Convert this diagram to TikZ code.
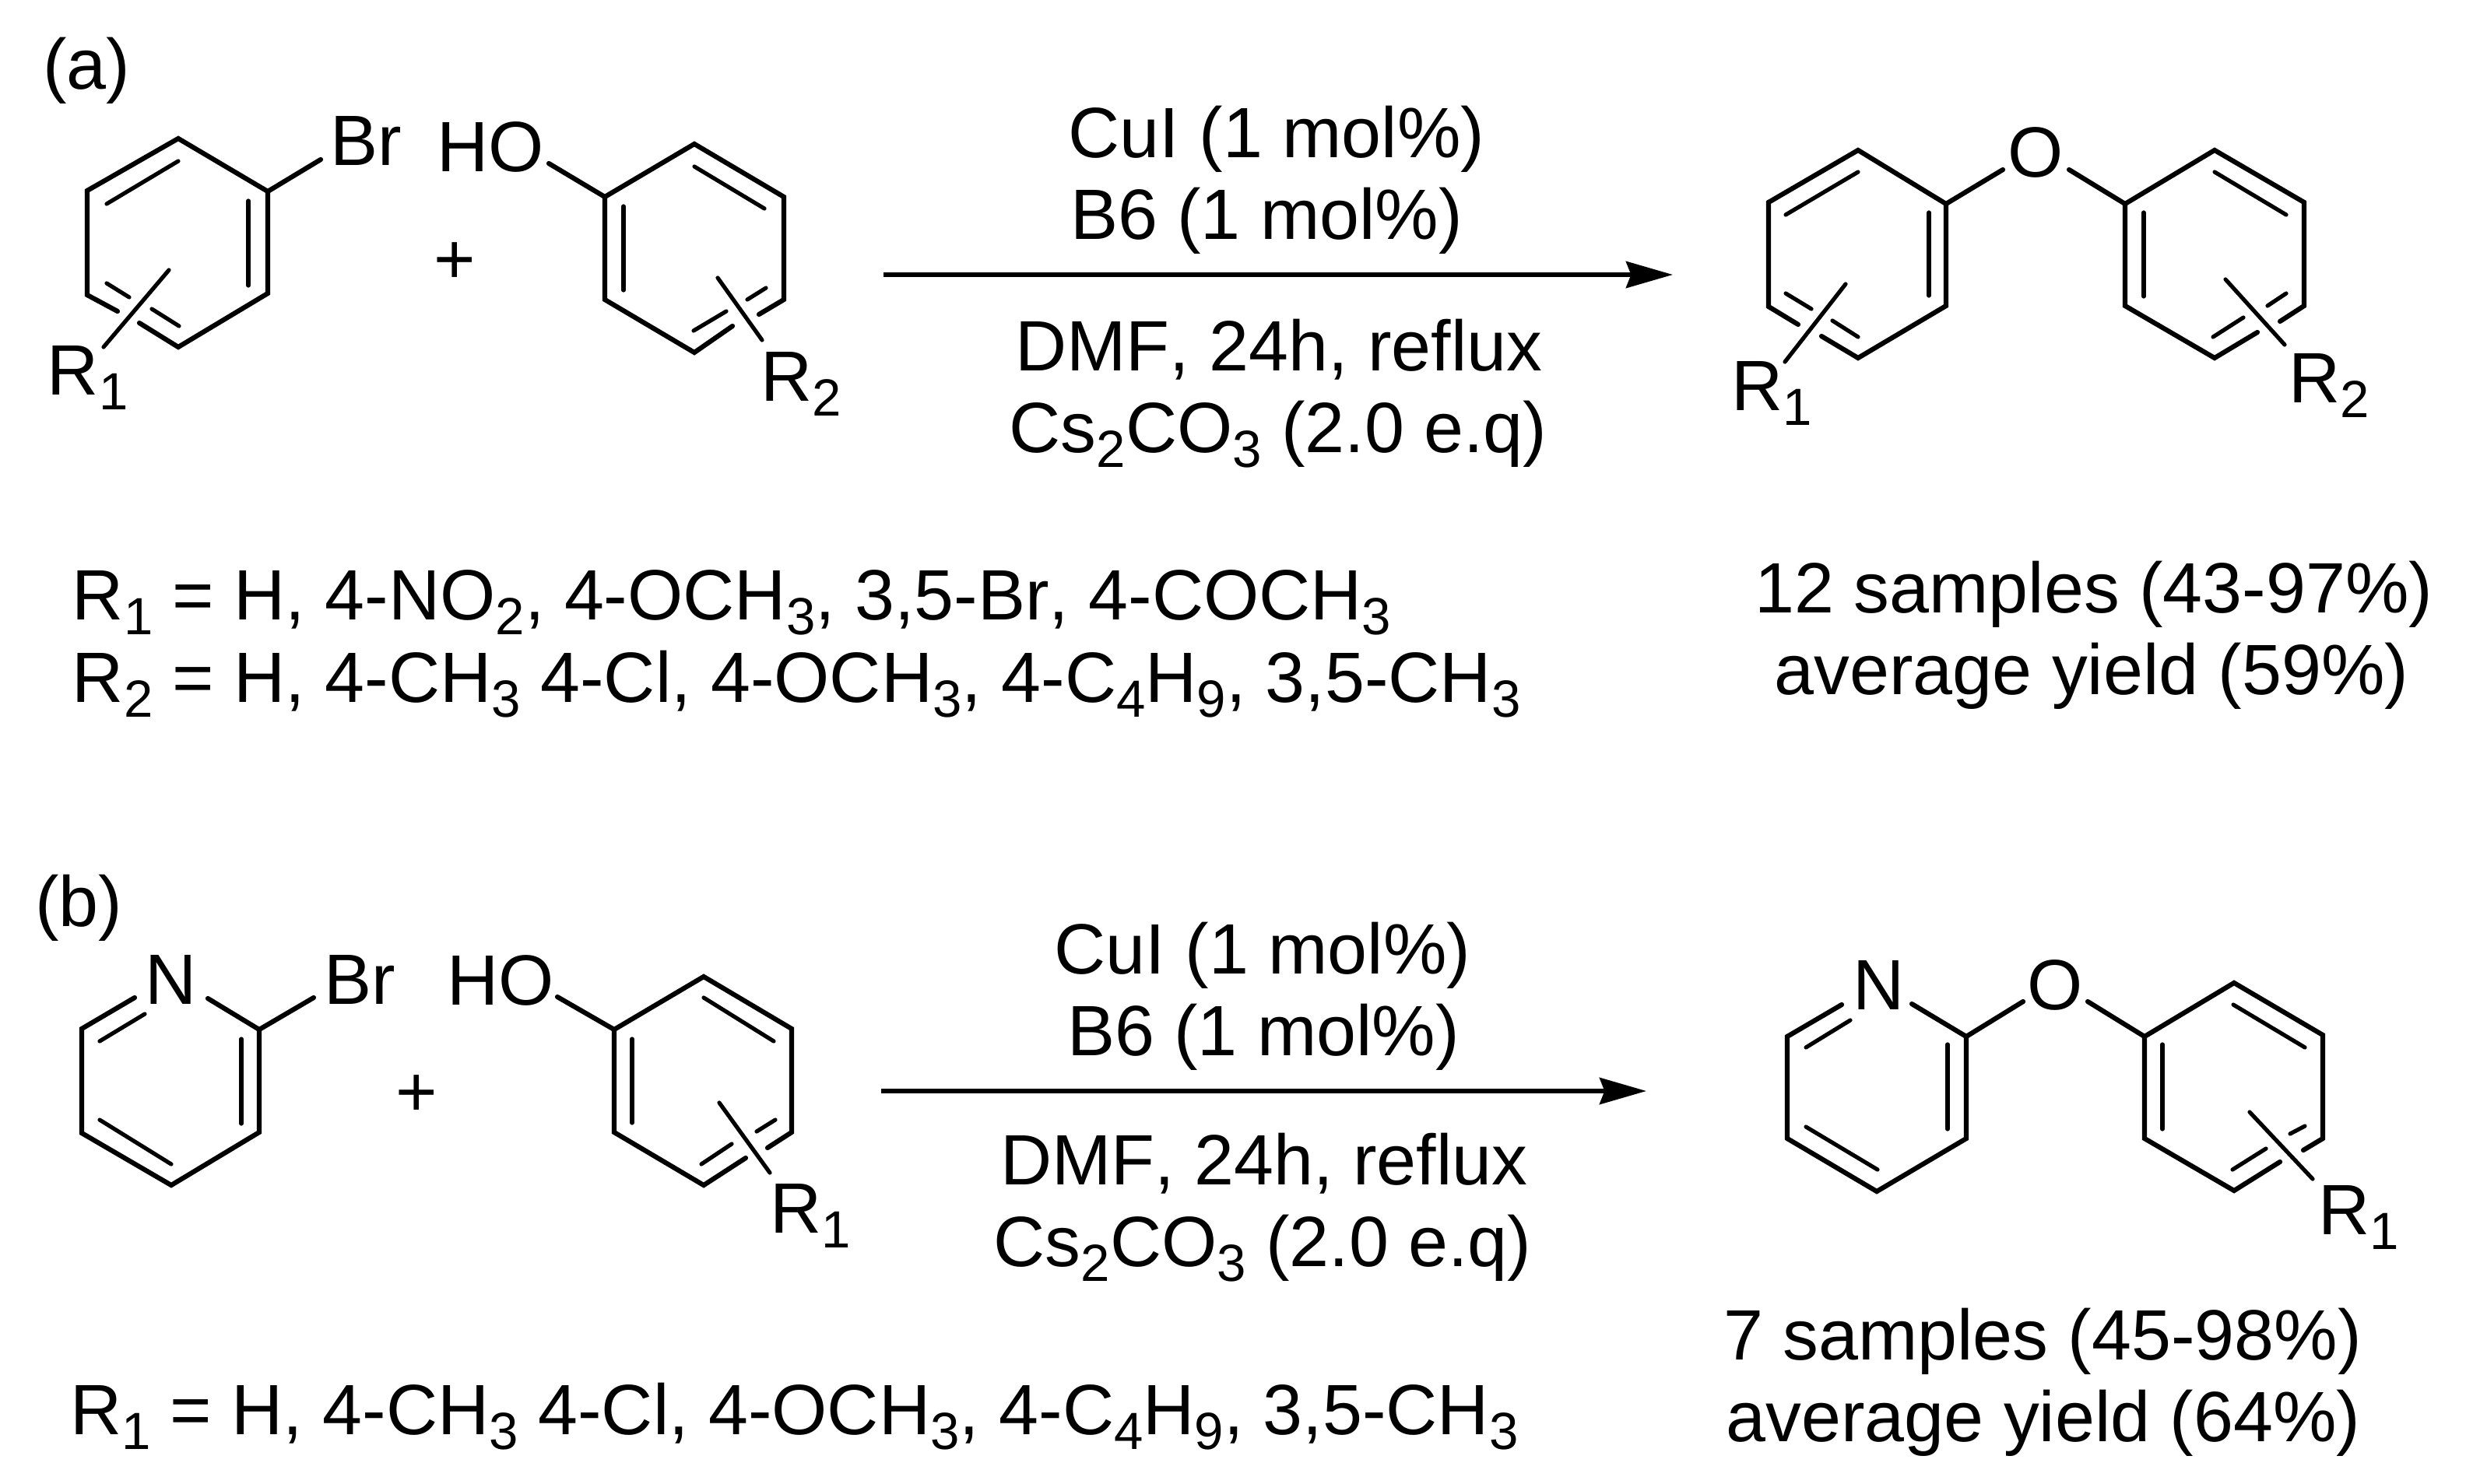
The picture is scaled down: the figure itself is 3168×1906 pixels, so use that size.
\documentclass[tikz,border=0pt]{standalone}
\usepackage{fontspec}
\setmainfont[Kerning=Off,Ligatures=CommonOff]{Liberation Sans}
\usetikzlibrary{arrows.meta}
\newcommand\chemsub[1]{\raisebox{-4.75pt}{\fontsize{16.8}{16.8}\selectfont #1}}
\tikzset{
  bond/.style={line width=1.55pt,line cap=round,line join=miter,black},
  inbond/.style={line width=1.3pt,line cap=round,black},
  rxnarrow/.style={line width=1.5pt,-{Stealth[length=15pt,width=8.5pt,inset=1.6pt]}},
  txt/.style={inner sep=0pt,outer sep=0pt,font=\fontsize{22.9}{27}\selectfont,anchor=base west},
  ctxt/.style={txt,anchor=base}
}
\begin{document}
\begin{tikzpicture}[x=0.25pt,y=-0.25pt]
\useasboundingbox (0,0) rectangle (3168,1906);
% named points of the structures
\foreach \n/\x/\y in {
 aT/229/178,aUR/344/246,aLR/344/377,aB/229/446,aLL/112/379,aUL/112/245,
 aBrE/412/205,aF1/151/400,aF2/179/415,
 aI1/137/262,aI2/229/207,aI3/319/258,aI4/319/367,aI5/137/364,aI6/166/382,aI7/195/397,aI8/230/419,
 aS1/217/347,aS2/133/446,
 bT/892/185,bUR/1007/253,bLR/1007/385,bB/892/453,bLL/777/385,bUL/777/253,
 bHO/705/210,bF1/975/404,bF2/941/419,
 bI1/892/214,bI2/982/268,bI3/801/265,bI4/801/373,bI5/984/370,bI6/960/385,bI7/933/400,bI8/891/425,
 bS1/922/357,bS2/979/437,
 cT/2387/193,cUR/2500/262,cLR/2500/393,cB/2387/460,cLL/2272/394,cUL/2272/260,
 cO/2573/218,cF1/2310/417,cF2/2340/432,
 cI1/2294/276,cI2/2387/221,cI3/2478/273,cI4/2478/380,cI5/2294/377,cI6/2327/397,cI7/2354/412,cI8/2387/433,
 cS1/2371/365,cS2/2293/465,
 dT/2845/193,dUR/2960/260,dLR/2960/393,dB/2845/460,dLL/2730/393,dUL/2730/262,
 dO/2658/218,dF1/2929/413,dF2/2900/427,
 dI1/2754/273,dI2/2754/381,dI3/2845/221,dI4/2937/276,dI5/2937/377,dI6/2913/393,dI7/2882/408,dI8/2843/433,
 dS1/2859/359,dS2/2935/443,
 eC2/333/1323,eC3/333/1455,eC4/220/1523,eC5/105/1456,eC6/105/1322,
 eN1/173/1282,eN2/267/1283,eBr/403/1282,
 eI1/128/1338,eI2/186/1303,eI3/310/1335,eI4/310/1444,eI5/128/1439,eI6/220/1496,
 fT/904/1255,fUR/1017/1322,fLR/1017/1455,fB/904/1523,fLL/789/1455,fUL/789/1323,
 fHO/716/1281,fF1/986/1475,fF2/958/1488,
 fI1/812/1335,fI2/812/1443,fI3/904/1282,fI4/994/1338,fI5/996/1439,fI6/972/1454,fI7/940/1470,fI8/901/1496,
 fS1/924/1417,fS2/989/1507,
 gC2/2526/1332,gC3/2526/1463,gC4/2411/1531,gC5/2296/1463,gC6/2296/1332,
 gN1/2366/1291,gN2/2456/1290,gO/2599/1287,
 gI1/2320/1346,gI2/2377/1311,gI3/2502/1342,gI4/2502/1451,gI5/2320/1448,gI6/2412/1503,
 hT/2870/1263,hUR/2984/1330,hLR/2984/1463,hB/2870/1530,hLL/2755/1463,hUL/2755/1332,
 hO/2682/1287,hF1/2959/1478,hF2/2929/1493,
 hI1/2778/1342,hI2/2778/1451,hI3/2869/1291,hI4/2961/1346,hI5/2961/1447,hI6/2942/1457,hI7/2911/1476,hI8/2868/1503,
 hS1/2890/1429,hS2/2971/1515,
 arAs/1135/353,arAe/2149/353,arBs/1132/1402,arBe/2115/1402}
 {\coordinate (\n) at (\x,\y);}
% outer ring bonds and single bonds
\draw[bond] (aF1)--(aLL)--(aUL)--(aT)--(aUR)--(aLR)--(aB)--(aF2);
\draw[bond] (aUR)--(aBrE);
\draw[bond] (bF1)--(bLR)--(bUR)--(bT)--(bUL)--(bLL)--(bB)--(bF2);
\draw[bond] (bUL)--(bHO);
\draw[bond] (cF1)--(cLL)--(cUL)--(cT)--(cUR)--(cLR)--(cB)--(cF2);
\draw[bond] (cUR)--(cO);
\draw[bond] (dF1)--(dLR)--(dUR)--(dT)--(dUL)--(dLL)--(dB)--(dF2);
\draw[bond] (dUL)--(dO);
\draw[bond] (eN1)--(eC6)--(eC5)--(eC4)--(eC3)--(eC2)--(eN2);
\draw[bond] (eC2)--(eBr);
\draw[bond] (fF1)--(fLR)--(fUR)--(fT)--(fUL)--(fLL)--(fB)--(fF2);
\draw[bond] (fUL)--(fHO);
\draw[bond] (gN1)--(gC6)--(gC5)--(gC4)--(gC3)--(gC2)--(gN2);
\draw[bond] (gC2)--(gO);
\draw[bond] (hF1)--(hLR)--(hUR)--(hT)--(hUL)--(hLL)--(hB)--(hF2);
\draw[bond] (hUL)--(hO);
% inner lines of double bonds and substituent lines
\foreach \p/\q in {aI1/aI2,aI3/aI4,aI5/aI6,aI7/aI8,aS1/aS2,
 bI1/bI2,bI3/bI4,bI5/bI6,bI7/bI8,bS1/bS2,
 cI1/cI2,cI3/cI4,cI5/cI6,cI7/cI8,cS1/cS2,
 dI1/dI2,dI3/dI4,dI5/dI6,dI7/dI8,dS1/dS2,
 eI1/eI2,eI3/eI4,eI5/eI6,
 fI1/fI2,fI3/fI4,fI5/fI6,fI7/fI8,fS1/fS2,
 gI1/gI2,gI3/gI4,gI5/gI6,
 hI1/hI2,hI3/hI4,hI5/hI6,hI7/hI8,hS1/hS2}
 {\draw[inbond] (\p)--(\q);}
% reaction arrows
\draw[rxnarrow] (arAs)--(arAe);
\draw[rxnarrow] (arBs)--(arBe);
% labels, scheme a
\node[txt] (labA) at (55,114) {(a)};
\node[txt] (brA) at (424,212) {Br};
\node[txt] (hoA) at (561,220) {HO};
\node[ctxt] (plusA) at (584,364) {+};
\node[txt] (r1A) at (61,507) {R\chemsub{1}};
\node[txt] (r2A) at (977,515) {R\chemsub{2}};
\node[ctxt] (cuA) at (1640,202) {CuI (1 mol\%)};
\node[ctxt] (b6A) at (1627,307) {B6 (1 mol\%)};
\node[ctxt] (dmfA) at (1643,476) {DMF, 24h, reflux};
\node[ctxt] (csA) at (1642,581) {Cs\chemsub{2}CO\chemsub{3} (2.0 e.q)};
\node[ctxt] (oA) at (2615,227) {O};
\node[txt] (r1P) at (2224,527) {R\chemsub{1}};
\node[txt] (r2P) at (2940,517) {R\chemsub{2}};
\node[txt] (lineR1) at (93,796) {R\chemsub{1} = H, 4-NO\chemsub{2}, 4-OCH\chemsub{3}, 3,5-Br, 4-COCH\chemsub{3}};
\node[txt] (lineR2) at (93,902) {R\chemsub{2} = H, 4-CH\chemsub{3} 4-Cl, 4-OCH\chemsub{3}, 4-C\chemsub{4}H\chemsub{9}, 3,5-CH\chemsub{3}};
\node[ctxt] (sampA) at (2690,787) {12 samples (43-97\%)};
\node[ctxt] (yldA) at (2687,892) {average yield (59\%)};
% labels, scheme b
\node[txt] (labB) at (45,1190) {(b)};
\node[txt] (nB) at (186,1290) {N};
\node[txt] (brB) at (416,1290) {Br};
\node[txt] (hoB) at (574,1291) {HO};
\node[ctxt] (plusB) at (535,1434) {+};
\node[txt] (r1B) at (989,1584) {R\chemsub{1}};
\node[ctxt] (cuB) at (1622,1251) {CuI (1 mol\%)};
\node[ctxt] (b6B) at (1623,1356) {B6 (1 mol\%)};
\node[ctxt] (dmfB) at (1624,1522) {DMF, 24h, reflux};
\node[ctxt] (csB) at (1622,1627) {Cs\chemsub{2}CO\chemsub{3} (2.0 e.q)};
\node[txt] (nP) at (2380,1297) {N};
\node[ctxt] (oB) at (2640,1297) {O};
\node[txt] (r1Q) at (2978,1586) {R\chemsub{1}};
\node[txt] (lineR3) at (90,1843) {R\chemsub{1} = H, 4-CH\chemsub{3} 4-Cl, 4-OCH\chemsub{3}, 4-C\chemsub{4}H\chemsub{9}, 3,5-CH\chemsub{3}};
\node[ctxt] (sampB) at (2624,1747) {7 samples (45-98\%)};
\node[ctxt] (yldB) at (2625,1852) {average yield (64\%)};
\end{tikzpicture}
\end{document}
